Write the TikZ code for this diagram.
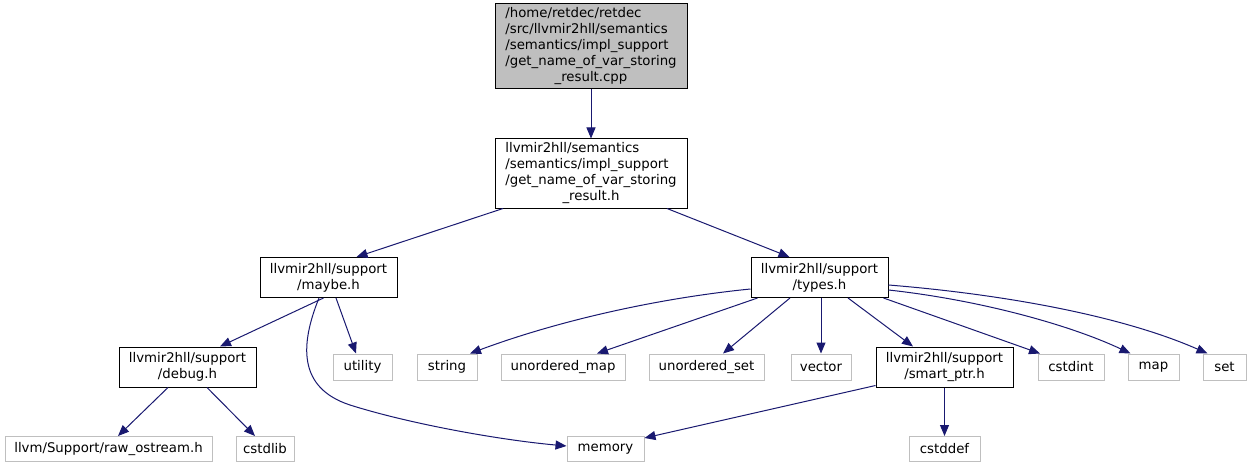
\documentclass[tikz,border=0pt]{standalone}
\usepackage{fontspec}
\setmainfont{DejaVu Sans}
\usetikzlibrary{arrows.meta}
\definecolor{edgecol}{HTML}{191970}
\definecolor{graybord}{HTML}{BFBFBF}
\definecolor{rootfill}{HTML}{BFBFBF}
\begin{document}
\begin{tikzpicture}[x=1pt,y=-1pt,
  every node/.style={font=\fontsize{13.3}{16}\selectfont, inner sep=0pt},
  blk/.style={draw=black, line width=1pt, align=center, minimum height=40},
  gry/.style={draw=graybord, line width=1pt, align=center, minimum height=26},
  dep/.style={draw=edgecol, line width=1pt, -{Triangle[length=11pt,width=9pt]}}]
\useasboundingbox[fill=white] (0,0) rectangle (1251,468);
% nodes
\node[blk, fill=rootfill, minimum width=192, minimum height=85] (root) at (591,46.5)
  {\begin{tabular}{@{}l@{}}/home/retdec/retdec\\/src/llvmir2hll/semantics\\/semantics/impl\_support\\/get\_name\_of\_var\_storing\\\multicolumn{1}{@{}c@{}}{\_result.cpp}\end{tabular}};
\node[blk, minimum width=192, minimum height=69] (node2) at (591,173.5)
  {\begin{tabular}{@{}l@{}}llvmir2hll/semantics\\/semantics/impl\_support\\/get\_name\_of\_var\_storing\\\multicolumn{1}{@{}c@{}}{\_result.h}\end{tabular}};
\node[blk, minimum width=137] (maybe) at (328.5,277.5) {llvmir2hll/support\\/maybe.h};
\node[blk, minimum width=137] (types) at (819.5,277.5) {llvmir2hll/support\\/types.h};
\node[blk, minimum width=137] (debug) at (187.5,367) {llvmir2hll/support\\/debug.h};
\node[blk, minimum width=137] (smart) at (944.5,367) {llvmir2hll/support\\/smart\_ptr.h};
\node[gry, minimum width=59] (utility) at (362.5,367) {utility};
\node[gry, minimum width=60] (string) at (447,367) {string};
\node[gry, minimum width=124] (umap) at (563,367) {unordered\_map};
\node[gry, minimum width=115] (uset) at (706.5,367) {unordered\_set};
\node[gry, minimum width=60] (vector) at (821,367) {vector};
\node[gry, minimum width=66] (cstdint) at (1071,367) {cstdint};
\node[gry, minimum width=51] (map) at (1153.5,367) {map};
\node[gry, minimum width=43] (set) at (1224.5,367) {set};
\node[gry, minimum width=207, minimum height=25] (raw) at (108.5,449) {llvm/Support/raw\_ostream.h};
\node[gry, minimum width=58, minimum height=25] (cstdlib) at (265,449) {cstdlib};
\node[gry, minimum width=77, minimum height=25] (memory) at (605.5,449) {memory};
\node[gry, minimum width=71, minimum height=25] (cstddef) at (944.5,449) {cstddef};
% edges
\draw[dep] (root) -- (node2);
\draw[dep] ([xshift=-88]node2.south) -- ([xshift=28]maybe.north);
\draw[dep] ([xshift=76]node2.south) -- ([xshift=-30]types.north);
\draw[dep] ([xshift=-5]maybe.south) -- ([xshift=32.5]debug.north);
\draw[dep] ([xshift=7.5]maybe.south) -- ([xshift=-6.5]utility.north);
\draw[dep] ([xshift=-9.5]maybe.south) .. controls (300,345) and (298,388) .. (350,405)
  .. controls (410,424) and (500,440) .. ([yshift=3]memory.west);
\draw[dep] ([yshift=-11.5]types.west) .. controls (660,298) and (560,320) .. ([xshift=23]string.north);
\draw[dep] ([xshift=7]types.south west) -- ([xshift=34]umap.north);
\draw[dep] ([xshift=-29.5]types.south) -- ([xshift=16.5]uset.north);
\draw[dep] (types.south -| vector.north) -- (vector.north);
\draw[dep] ([xshift=28.5]types.south) -- ([xshift=-31.5]smart.north);
\draw[dep] ([xshift=-5]types.south east) -- ([xshift=-31]cstdint.north);
\draw[dep] ([yshift=-12.5]types.east) .. controls (980,300) and (1070,325) .. ([xshift=-23]map.north);
\draw[dep] ([yshift=-7.5]types.east) .. controls (1000,294) and (1120,315) .. ([xshift=-17]set.north);
\draw[dep] ([xshift=-19.5]debug.south) -- ([xshift=9.5]raw.north);
\draw[dep] ([xshift=19.5]debug.south) -- ([xshift=-10]cstdlib.north);
\draw[dep] ([yshift=2]smart.south west) -- ([yshift=-2]memory.north east);
\draw[dep] (smart.south -| cstddef.north) -- (cstddef.north);
\end{tikzpicture}
\end{document}
